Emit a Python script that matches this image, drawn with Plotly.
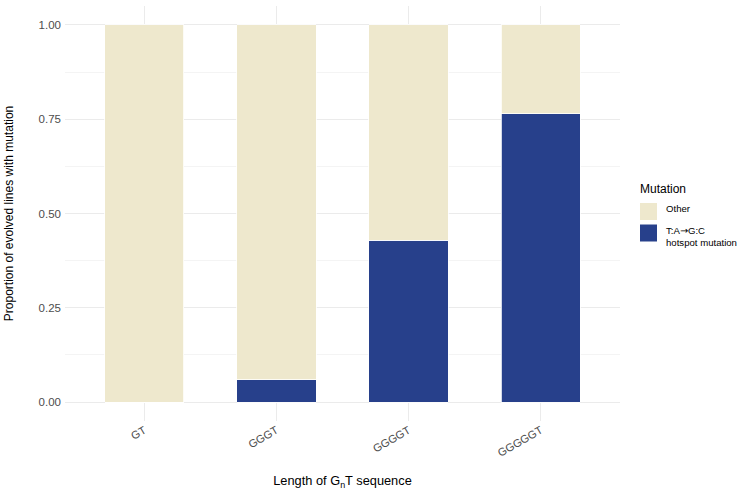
import plotly.graph_objects as go

categories = ["GT", "GGGT", "GGGGT", "GGGGGT"]
hotspot = [0.0, 0.059, 0.429, 0.765]
other = [1.0, 0.941, 0.571, 0.235]
y_ticks = [0.0, 0.25, 0.5, 0.75, 1.0]
y_ticklabels = ["0.00", "0.25", "0.50", "0.75", "1.00"]
legend_labels = ["Other", "T:A<span style=\"font-family:DejaVu Sans\">→</span>G:C<br>hotspot mutation"]

FONT = "Liberation Sans, Arial, Helvetica, sans-serif"
C_OTHER = "#EEE8CD"
C_HOT = "#27408B"

W, H = 750, 500
ML, MR, MT, MB = 65, 130, 6, 79
PW, PH = W - ML - MR, H - MT - MB


def px(x):
    return (x - ML) / PW


def py(y):
    return (H - MB - y) / PH


fig = go.Figure()
fig.add_trace(go.Bar(
    x=categories, y=hotspot, name="T:A→G:C hotspot mutation",
    marker=dict(color=C_HOT, line=dict(color="white", width=0.8)),
    width=0.6, showlegend=False,
))
fig.add_trace(go.Bar(
    x=categories, y=other, name="Other",
    marker=dict(color=C_OTHER, line=dict(color="white", width=0.8)),
    width=0.6, showlegend=False,
))

# manual legend (ggplot-style keys)
shapes = []
annotations = []
annotations.append(dict(
    text="Mutation", x=px(637.5), y=py(189), xref="paper", yref="paper",
    xanchor="left", yanchor="middle", showarrow=False,
    font=dict(size=12, color="black", family=FONT),
))
keys = [(C_OTHER, 203, 220, legend_labels[0], 208.5),
        (C_HOT, 224.5, 241.5, legend_labels[1], 236.5)]
for col, y0, y1, lab, ty in keys:
    shapes.append(dict(
        type="rect", xref="paper", yref="paper",
        x0=px(640), x1=px(657), y0=py(y1), y1=py(y0),
        fillcolor=col, line=dict(width=0),
    ))
    annotations.append(dict(
        text=lab, x=px(664), y=py(ty), xref="paper", yref="paper",
        xanchor="left", yanchor="middle", align="left", showarrow=False,
        font=dict(size=9.6, color="black", family=FONT),
    ))

fig.update_layout(
    barmode="stack",
    width=W, height=H,
    margin=dict(l=ML, r=MR, t=MT, b=MB),
    plot_bgcolor="white", paper_bgcolor="white",
    font=dict(family=FONT, size=12, color="black"),
    showlegend=False,
    shapes=shapes,
    annotations=annotations,
    xaxis=dict(
        range=[-0.6, 3.6],
        showgrid=True, gridcolor="#EBEBEB", gridwidth=1,
        tickangle=-30, ticks="",
        tickfont=dict(size=11, color="#4D4D4D"),
        title=dict(text="Length of G<sub>n</sub>T sequence", font=dict(size=12.8), standoff=18),
        zeroline=False, showline=False,
    ),
    yaxis=dict(
        range=[-0.05, 1.05],
        tickvals=y_ticks, ticktext=y_ticklabels,
        showgrid=True, gridcolor="#EBEBEB", gridwidth=1,
        minor=dict(tick0=0.125, dtick=0.25, showgrid=True, gridcolor="#F4F4F4", gridwidth=0.6),
        tickfont=dict(size=11.5, color="#4D4D4D"),
        ticklabelstandoff=3,
        title=dict(text="Proportion of evolved lines with mutation", font=dict(size=12), standoff=22),
        zeroline=False, showline=False, ticks="",
    ),
)

fig.write_html("out.html")
